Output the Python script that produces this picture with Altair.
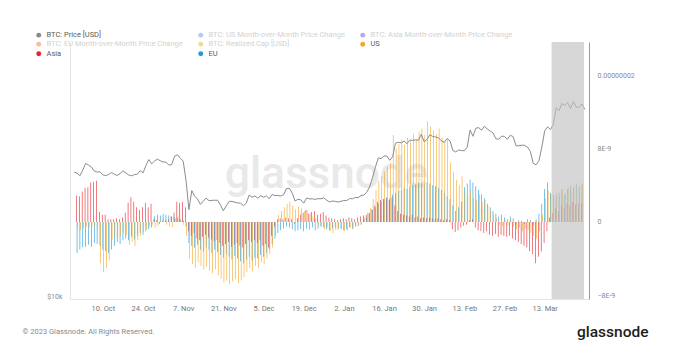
import altair as alt
import pandas as pd

FONT = "Roboto"

# ---------------- data ----------------
price_start = "2022-09-30"   # daily BTC price, 2022-09-30 .. 2023-03-27 (k USD)
bar_start = "2022-10-01"     # daily regional values, 2022-10-01 .. 2023-03-26

price_k = [
    # Sep 30
    19.42,
    # Oct
    19.31, 19.04, 19.62, 20.34, 20.16, 19.96, 19.53, 19.42, 19.45, 19.13, 19.06, 19.16, 19.38, 19.19, 19.07, 19.27,
    19.55, 19.33, 19.12, 19.04, 19.16, 19.20, 19.57, 19.33, 20.09, 20.77, 20.29, 20.60, 20.82, 20.63, 20.50,
    # Nov
    20.48, 20.16, 20.21, 21.15, 21.30, 20.91, 20.60, 18.54, 15.88, 17.59, 17.07, 16.81, 16.33, 16.62, 16.90,
    16.66, 16.69, 16.70, 16.70, 16.28, 15.78, 16.20, 16.60, 16.60, 16.52, 16.46, 16.44, 16.21, 16.44, 17.17,
    # Dec
    16.97, 17.09, 16.88, 17.11, 16.97, 17.09, 16.84, 17.22, 17.13, 17.13, 17.09, 17.20, 17.78, 17.81, 17.36, 16.63,
    16.78, 16.74, 16.44, 16.90, 16.82, 16.83, 16.78, 16.84, 16.83, 16.92, 16.70, 16.55, 16.63, 16.60, 16.54,
    # Jan
    16.61, 16.67, 16.67, 16.85, 16.83, 16.95, 16.94, 17.12, 17.18, 17.44, 17.94, 18.85, 19.93, 20.95, 20.87, 21.17,
    21.16, 20.68, 21.07, 22.67, 22.78, 22.71, 22.92, 22.61, 23.06, 23.01, 23.08, 23.03, 23.77, 22.84, 23.14,
    # Feb
    23.73, 23.49, 23.43, 23.33, 22.94, 22.76, 23.26, 22.95, 21.80, 21.63, 21.86, 21.79, 21.77, 22.20, 24.33, 23.52,
    24.57, 24.63, 24.30, 24.84, 24.45, 24.19, 23.95, 23.20, 23.16, 23.55, 23.49, 23.15,
    # Mar
    23.65, 23.48, 22.36, 22.35, 22.43, 22.41, 22.20, 21.70, 20.36, 20.19, 20.63, 22.16, 24.20, 24.75, 24.38, 25.05,
    27.42, 26.97, 28.04, 27.77, 28.17, 27.30, 28.33, 27.49, 27.49, 27.99, 27.14,
]

# month-over-month price change, in units of 1E-9
asia = [
    # Oct
    2.9, 2.8, 3.3, 3.7, 3.8, 4.3, 4.4, 4.5, 1.1, 0.8, 0.8, 0.3, 0.3, 0.3, 0.4, 0.3,
    0.5, 1.0, 2.1, 2.7, 2.2, 1.6, 1.3, 1.6, 2.1, 1.6, 2.0, 0.3, 0.2, -0.2, 0.1,
    # Nov
    0.2, 0.3, 0.6, 1.0, 2.2, 2.1, 2.2, 1.6, -1.0, -1.5, -1.2, -1.8, -2.0, -1.6, -1.4,
    -1.7, -1.9, -2.1, -2.0, -2.3, -2.6, -2.4, -2.2, -2.7, -2.5, -2.3, -2.6, -2.8, -2.4, -2.0,
    # Dec
    -2.2, -2.0, -2.3, -2.0, -2.6, -2.4, -2.8, -1.5, -0.5, 0.3, 0.4, 0.3, 0.5, 0.4, 0.3, -0.2,
    0.4, 0.8, 1.0, 1.3, 0.9, 1.1, 1.2, 0.8, 0.9, 1.1, 0.7, 0.5, 0.4, 0.3, 0.2,
    # Jan
    0.3, 0.4, 0.3, 0.5, 0.4, 0.3, 0.5, 0.6, 0.7, 0.8, 1.0, 1.4, 1.8, 2.2, 2.4, 2.5,
    2.6, 2.4, 2.7, 1.8, 1.2, 0.9, 0.8, 0.7, 0.6, 0.8, 0.5, 0.6, 0.4, 0.5, 0.4,
    # Feb
    0.5, 0.4, 0.3, 0.4, 0.3, 0.2, 0.3, 0.2, -0.8, -1.1, -0.9, -0.6, -0.4, -0.3, 0.2, 0.3,
    -0.6, -0.9, -1.0, -1.2, -1.0, -1.4, -1.5, -1.3, -1.6, -1.4, -1.5, -1.6,
    # Mar
    -1.5, -1.8, -2.0, -2.2, -2.4, -2.6, -2.8, -3.2, -3.5, -4.5, -3.8, -3.2, -2.3, -1.0, 0.5, 1.0,
    1.5, 1.2, 1.8, 1.5, 2.0, 1.8, 2.2, 1.9, 2.0, 2.1,
]

eu = [
    # Oct
    -3.4, -3.0, -2.8, -2.7, -2.5, -2.7, -2.3, -2.4, -2.6, -3.0, -3.2, -3.4, -3.0, -2.6, -2.2, -2.4,
    -2.0, -1.8, -2.0, -1.6, -1.9, -1.5, -1.2, -1.4, -1.0, -0.8, -0.6, 0.6, 0.8, 0.7, 0.9,
    # Nov
    0.8, 0.7, 0.6, 0.5, 0.4, 0.3, 0.2, -0.5, -2.3, -2.6, -2.8, -2.5, -3.0, -3.2, -2.8,
    -3.1, -3.4, -3.0, -3.3, -3.6, -3.9, -3.5, -3.8, -4.1, -3.7, -4.0, -4.3, -4.5, -4.1, -3.8,
    # Dec
    -4.2, -3.9, -4.0, -3.6, -3.8, -3.4, -3.0, -2.4, -1.8, -1.2, -0.9, -0.7, -0.5, -0.6, -0.8, -1.0,
    -0.9, -0.8, -1.0, -0.7, -0.8, -0.6, -0.9, -0.7, -0.5, -0.6, -0.8, -0.9, -0.7, -0.6, -0.8,
    # Jan
    -0.7, -0.9, -0.8, -0.6, -0.7, -0.5, -0.4, -0.3, 0.2, 0.5, 0.9, 1.3, 1.6, 2.0, 2.2, 2.5,
    2.7, 2.6, 3.0, 3.2, 3.4, 3.5, 3.7, 3.6, 3.9, 4.0, 4.1, 4.3, 4.2, 4.1, 4.3,
    # Feb
    4.2, 4.0, 3.9, 3.7, 3.5, 3.2, 2.8, 2.5, 1.8, 1.2, 1.6, 2.2, 3.8, 4.2, 4.6, 4.3,
    3.9, 3.5, 3.0, 2.6, 2.0, 1.6, 1.2, 0.9, 0.6, 0.8, 0.5, 0.3,
    # Mar
    0.6, 0.4, -0.3, 0.2, 0.1, -0.2, 0.3, 0.2, -0.4, 0.3, 0.9, 2.0, 3.6, 4.3, 3.2, 3.0,
    2.8, 3.2, 3.5, 3.0, 3.6, 4.0, 3.7, 4.2, 3.9, 4.1,
]

us = [
    # Oct
    -0.8, -0.9, -0.7, -0.5, -0.6, -0.4, -0.5, -0.7, -4.5, -5.5, -5.0, -4.2, -2.0, -1.6, -1.8, -1.5,
    -1.2, -1.4, -2.5, -2.2, -2.6, -2.0, -1.5, -1.0, -0.8, -0.5, -0.3, -0.6, -0.4, 0.3, 0.5,
    # Nov
    -0.3, -0.5, -0.6, 0.4, 0.6, 0.2, -0.3, -1.5, -4.0, -4.6, -5.0, -4.4, -4.8, -5.2, -4.9,
    -5.3, -5.6, -5.2, -5.8, -6.2, -6.6, -6.4, -6.8, -6.5, -6.2, -6.7, -6.4, -6.0, -5.5, -5.0,
    # Dec
    -5.4, -4.8, -5.0, -4.4, -4.6, -4.0, -3.5, -2.8, -1.5, 0.8, 1.2, 1.6, 2.0, 2.2, 1.8, 1.4,
    1.7, 1.5, 1.2, 1.3, 0.9, 0.6, 0.4, -0.3, -0.5, -0.8, -0.6, -1.0, -1.2, -0.9, -0.7,
    # Jan
    -0.8, -1.0, -0.9, -0.6, -0.8, -0.5, -0.4, -0.2, 0.5, 1.0, 1.5, 2.5, 3.5, 4.5, 5.0, 5.5,
    6.0, 6.5, 9.5, 8.0, 8.5, 9.0, 8.4, 9.2, 8.8, 9.6, 9.0, 9.8, 10.2, 9.5, 11.0,
    # Feb
    10.4, 10.0, 9.6, 10.2, 9.2, 8.8, 9.0, 6.5, 5.5, 4.6, 4.0, 5.0, 3.2, 2.8, 3.4, 2.6,
    2.4, 3.0, 2.2, 2.4, 1.8, 1.2, 0.8, 0.4, -0.3, -0.5, 0.2, -0.4,
    # Mar
    0.3, -0.5, -0.8, -0.6, -1.0, -0.7, -0.9, -1.2, -1.5, -1.8, -1.0, 0.8, 2.6, 3.4, 3.0, 2.6,
    3.2, 2.8, 3.6, 3.2, 3.8, 3.4, 4.0, 3.7, 3.9, 4.2,
]

region_names = ["Asia", "EU", "US"]
# legend entries, listed column by column (3 rows per column)
legend_names = [
    "BTC: Price [USD]",
    "BTC: EU Month-over-Month Price Change",
    "Asia",
    "BTC: US Month-over-Month Price Change",
    "BTC: Realized Cap [USD]",
    "EU",
    "BTC: Asia Month-over-Month Price Change",
    "US",
]
active_names = ["BTC: Price [USD]", "US", "Asia", "EU"]

tick_dates = ["2022-10-10", "2022-10-24", "2022-11-07", "2022-11-21", "2022-12-05", "2022-12-19",
              "2023-01-02", "2023-01-16", "2023-01-30", "2023-02-13", "2023-02-27", "2023-03-13"]
x_domain = ["2022-09-30T07:00:00", "2023-03-26T17:00:00"]
shade_range = ["2023-03-15T10:00:00", "2023-03-26T17:00:00"]

# ---------------- styles ----------------
legend_colors = ["#8a8a8a", "#f26b2d", "#e5232c", "#4a90e2", "#c9b22a", "#1e9ad6", "#5b3fd6", "#f5a623"]
shift_hours = {"Asia": -5, "EU": 0, "US": 5}

assert len(asia) == len(eu) == len(us) == 177
price_dates = pd.date_range(price_start, periods=len(price_k), freq="D")
bar_dates = pd.date_range(bar_start, periods=len(asia), freq="D")

price_df = pd.DataFrame({
    "date": [d.strftime("%Y-%m-%dT%H:%M:%S") for d in price_dates],
    "price": [p * 1000 for p in price_k],
})

rows = []
for name, vals in zip(region_names, [asia, eu, us]):
    for d, v in zip(bar_dates, vals):
        ts = d + pd.Timedelta(hours=shift_hours[name])
        rows.append({"ts": ts.strftime("%Y-%m-%dT%H:%M:%S"), "region": name, "val": v * 1e-9})
bar_df = pd.DataFrame(rows)

shade_df = pd.DataFrame({"start": [shade_range[0]], "end": [shade_range[1]]})


def dt(s):
    t = pd.Timestamp(s)
    return alt.DateTime(year=t.year, month=t.month, date=t.day, hours=t.hour)


x_scale = alt.Scale(domain=[dt(x_domain[0]), dt(x_domain[1])])
x_axis = alt.Axis(
    values=[dt(s) for s in tick_dates], format="%-d. %b", labelColor="#777777", labelFontSize=7.5,
    labelFont=FONT, labelPadding=5, domainColor="#e4e4e4", ticks=False, grid=False,
    title="glassnode", titleX=578, titleY=32, titleAlign="right", titleBaseline="middle",
    titleFontSize=15.5, titleFontWeight=500, titleColor="#1d1d1d", titleFont=FONT, labelFlush=False,
)


def X(field):
    return alt.X(field, type="temporal", scale=x_scale, axis=x_axis)


W, H = 519, 257

watermark = alt.Chart(pd.DataFrame({"t": ["glassnode"]})).mark_text(
    fontSize=44, color="#e9e9e9", font=FONT, fontWeight=500, align="center", baseline="alphabetic"
).encode(x=alt.value(W / 2 - 3), y=alt.value(146), text="t:N")

label_expr = "indexof(" + str(active_names) + ", datum.label) >= 0 ? '#5a5a5a' : '#d2d2d2'"
sym_expr = "indexof(" + str(active_names) + ", datum.label) >= 0 ? 1 : 0.45"

bars = alt.Chart(bar_df).mark_bar(width=0.6).encode(
    x=X("ts"),
    y=alt.Y("val:Q", stack=None,
            scale=alt.Scale(domain=[-8.41e-9, 1.965e-8], nice=False, zero=False),
            axis=alt.Axis(orient="right", values=[-8e-9, 0, 8e-9, 1.6e-8],
                          labelExpr="datum.value == 0 ? '0' : (abs(datum.value) >= 1e-8 ? format(datum.value, '.8f') : replace(format(datum.value, '.0e'), 'e', 'E'))",
                          labelColor="#8a8a8a", labelFontSize=7, labelFont=FONT, labelPadding=8,
                          domainColor="#9a9a9a", ticks=False, grid=False, title=None)),
    y2=alt.datum(0),
    color=alt.Color("region:N",
                    scale=alt.Scale(domain=legend_names, range=legend_colors),
                    legend=alt.Legend(orient="none", legendX=-35, legendY=-11, columns=3, title=None,
                                      symbolType="circle", symbolSize=24, symbolStrokeWidth=0,
                                      labelFontSize=7.5, labelFont=FONT,
                                      labelColor=alt.ExprRef(expr=label_expr),
                                      symbolOpacity=alt.ExprRef(expr=sym_expr),
                                      rowPadding=0.5, columnPadding=14, labelOffset=4, padding=0,
                                      labelLimit=300)),
)

line = alt.Chart(price_df).mark_line(color="#8c8c8c", strokeWidth=1, clip=True).encode(
    x=X("date"),
    y=alt.Y("price:Q",
            scale=alt.Scale(type="log", domain=[9841, 38970], nice=False),
            axis=alt.Axis(orient="left", values=[10000], format="$~s", labelColor="#8a8a8a",
                          labelFontSize=7, labelFont=FONT, labelPadding=8, domainColor="#e4e4e4",
                          ticks=False, grid=False,
                          title="© 2023 Glassnode. All Rights Reserved.", titleAngle=0,
                          titleX=-48, titleY=289, titleAlign="left", titleBaseline="middle",
                          titleFontSize=7.5, titleFontWeight="normal", titleColor="#8a8a8a",
                          titleFont=FONT)),
)

shade = alt.Chart(shade_df).mark_rect(color="#c2c2c2", opacity=0.65).encode(
    x=X("start"), x2="end"
)

chart = alt.layer(watermark, bars, line, shade).resolve_scale(y="independent").properties(
    width=W, height=H,
    autosize=alt.AutoSizeParams(type="none"),
    padding={"left": 70, "top": 42, "right": 86, "bottom": 52},
    background="white",
).configure_view(stroke=None)

chart.save("out.html", embed_options={"renderer": "svg", "actions": False})
